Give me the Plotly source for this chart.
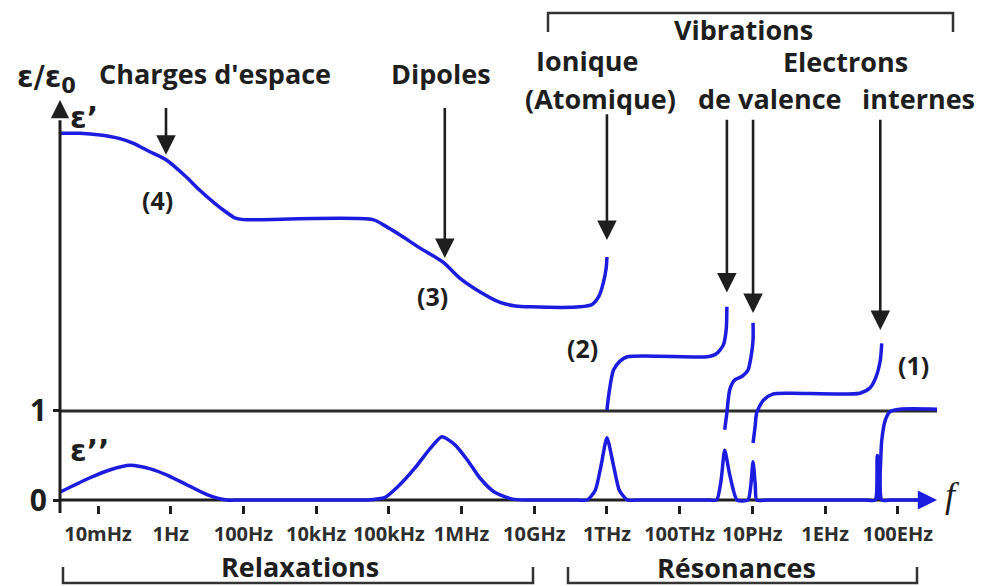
import plotly.graph_objects as go

# ---------------- data (x = tick index position along log-frequency axis) ----------------
tick_labels = ["10mHz", "1Hz", "100Hz", "10kHz", "100kHz", "1MHz",
               "10GHz", "1THz", "100THz", "10PHz", "1EHz", "100EHz"]
tick_pos = list(range(len(tick_labels)))

# epsilon' : relaxation part (space charges + dipoles) ending with ionic resonance
eps1_relax_x = [-0.52, -0.25, 0.03, 0.30, 0.48, 0.72, 0.94, 1.20, 1.40, 1.61, 1.77, 1.88, 2.00, 2.23,
                3.78, 3.95, 4.15, 4.43, 4.75, 4.98, 5.25, 5.53, 5.74, 5.94, 6.63, 6.80, 6.89, 6.95, 6.99, 7.00]
eps1_relax_y = [4.12, 4.12, 4.10, 4.06, 4.01, 3.91, 3.82, 3.64, 3.48, 3.33, 3.23, 3.17, 3.15, 3.15,
                3.15, 3.08, 2.98, 2.83, 2.67, 2.49, 2.34, 2.22, 2.18, 2.17, 2.17, 2.20, 2.29, 2.44, 2.61, 2.73]
# after ionic resonance, up to first valence resonance
eps1_ionic_x = [7.00, 7.03, 7.09, 7.18, 7.28, 8.38, 8.50, 8.60, 8.64, 8.65]
eps1_ionic_y = [1.01, 1.21, 1.46, 1.56, 1.61, 1.61, 1.64, 1.74, 1.91, 2.17]
# between the two valence resonances
eps1_val1_x = [8.62, 8.65, 8.69, 8.76, 8.86, 8.94, 8.98, 9.01, 9.01]
eps1_val1_y = [0.79, 0.98, 1.24, 1.35, 1.39, 1.46, 1.60, 1.80, 1.99]
# after valence resonance, up to core-electron resonance
eps1_val2_x = [9.01, 9.04, 9.06, 9.15, 9.28, 9.52, 10.48, 10.62, 10.70, 10.76, 10.78]
eps1_val2_y = [0.64, 0.84, 0.98, 1.12, 1.19, 1.20, 1.20, 1.26, 1.38, 1.57, 1.76]
# after core-electron resonance
eps1_core_x = [10.73, 10.76, 10.78, 10.83, 10.89, 11.03, 11.54]
eps1_core_y = [0.00, 0.34, 0.67, 0.90, 0.99, 1.02, 1.02]

# epsilon'' (losses)
eps2_x = [-0.52, -0.11, 0.17, 0.44, 0.72, 0.95, 1.20, 1.50, 1.77, 1.95, 3.55, 3.70, 3.95, 4.15, 4.36, 4.57,
          4.73, 4.91, 5.08, 5.25, 5.45, 5.70, 5.90, 6.10, 6.60, 6.73, 6.84, 6.92, 7.00, 7.09, 7.17, 7.28,
          7.40, 8.40, 8.51, 8.57, 8.62, 8.69, 8.79, 8.94, 8.98, 9.01, 9.04, 9.06, 9.20, 10.55, 10.69,
          10.72, 10.75, 10.78, 10.90, 11.35]
eps2_y = [0.09, 0.25, 0.34, 0.39, 0.35, 0.28, 0.18, 0.06, 0.00, 0.00, 0.00, 0.00, 0.03, 0.17, 0.36, 0.58,
          0.71, 0.62, 0.45, 0.25, 0.09, 0.01, 0.00, 0.00, 0.00, 0.00, 0.11, 0.39, 0.70, 0.39, 0.11, 0.00,
          0.00, 0.00, 0.00, 0.22, 0.56, 0.28, 0.00, 0.00, 0.17, 0.43, 0.17, 0.00, 0.00, 0.00, 0.00,
          0.50, 0.45, 0.00, 0.00, 0.00]

# labelled mechanisms: (x of arrow, arrow tail y, arrow tip y)
arrow_x = [0.935, 4.77, 7.00, 8.65, 9.01, 10.76]
arrow_tail_y = [4.42, 4.42, 4.35, 4.29, 4.29, 4.29]
arrow_tip_y = [3.88, 2.72, 2.92, 2.33, 2.10, 1.91]

# ---------------- layout geometry ----------------
W, H = 981, 586
L, R, T, B = 60, 937, 100, 505
XR = [-0.523, 11.54]
YR = [-0.0562, 4.494]
BLUE = "#1c1ce0"
INK = "#1e1e1e"
TXT = "Open Sans"


def px2paper(px, py):
    return (px - L) / (R - L), (B - py) / (B - T)


fig = go.Figure()

line_kw = dict(color=BLUE, width=3.5, shape="spline", smoothing=0.7)
for xs, ys in [(eps1_relax_x, eps1_relax_y), (eps1_ionic_x, eps1_ionic_y),
               (eps1_val1_x, eps1_val1_y), (eps1_val2_x, eps1_val2_y),
               (eps1_core_x, eps1_core_y)]:
    fig.add_trace(go.Scatter(x=xs, y=ys, mode="lines", line=line_kw,
                             hoverinfo="skip", showlegend=False))
fig.add_trace(go.Scatter(x=eps2_x, y=eps2_y, mode="lines",
                         line=dict(color=BLUE, width=3.5, shape="spline", smoothing=0.6),
                         hoverinfo="skip", showlegend=False))

shapes = []
# x axis (black part, covered in blue by eps'')
shapes.append(dict(type="line", xref="x", yref="y", x0=XR[0], x1=11.3, y0=0, y1=0,
                   line=dict(color=INK, width=3), layer="below"))
# line eps = 1
shapes.append(dict(type="line", xref="x", yref="y", x0=XR[0], x1=11.54, y0=1, y1=1,
                   line=dict(color="#2a2a2a", width=3), layer="below"))
# y axis
x0p, y0p = px2paper(60, 513)
shapes.append(dict(type="line", xref="paper", yref="paper", x0=0, x1=0, y0=y0p, y1=0.95,
                   line=dict(color=INK, width=3)))


def bracket(px0, px1, py_bar, py_end):
    a0, b0 = px2paper(px0, py_end)
    a1, b1 = px2paper(px1, py_bar)
    return dict(type="path", xref="paper", yref="paper",
                path=f"M{a0},{b0} L{a0},{b1} L{a1},{b1} L{a1},{b0}",
                line=dict(color="#333333", width=2.5))


shapes.append(bracket(548, 953, 13, 32))
shapes.append(bracket(63, 533, 583, 567))
shapes.append(bracket(568, 917, 583, 567))

ann = []


def text(s, px, py, size=27, family=TXT, weight="bold", color=INK):
    xp, yp = px2paper(px, py)
    ann.append(dict(text=s, x=xp, y=yp, xref="paper", yref="paper", showarrow=False,
                    xanchor="center", yanchor="middle",
                    font=dict(family=family, size=size, color=color, weight=weight)))


text("Charges d'espace", 215, 73)
text("Dipoles", 441, 73)
text("Vibrations", 743, 30)
text("Ionique", 587, 60)
text("(Atomique)", 600, 98)
text("Electrons", 845, 62)
text("de valence", 770, 98)
text("internes", 918, 98)
text("(4)", 157, 200, size=25)
text("(3)", 432, 296, size=25)
text("(2)", 582, 348, size=25)
text("(1)", 913, 365, size=25)
text("Relaxations", 300, 566)
text("Résonances", 736, 567)
text("ε’", 84, 117, size=30, family="DejaVu Sans")
text("ε’’", 90, 450, size=30, family="DejaVu Sans")
text("ε/ε<sub>0</sub>", 46, 78, size=30, family="DejaVu Sans")
text("<i>f</i>", 952, 495, size=36, family="Liberation Serif", weight="normal")

for xa, yt, yh in zip(arrow_x, arrow_tail_y, arrow_tip_y):
    ann.append(dict(text="", x=xa, y=yh, ax=xa, ay=yt, xref="x", yref="y", axref="x", ayref="y",
                    showarrow=True, arrowhead=2, arrowsize=1.5, arrowwidth=2.6,
                    arrowcolor=INK, standoff=0))
# axis arrowheads
ann.append(dict(text="", x=0, y=1, ax=0, ay=18, xref="paper", yref="paper", axref="pixel",
                ayref="pixel", showarrow=True, arrowhead=2, arrowsize=1.4, arrowwidth=2.6,
                arrowcolor=INK, standoff=0))
ann.append(dict(text="", x=11.54, y=0, ax=11.2, ay=0, xref="x", yref="y", axref="x",
                ayref="y", showarrow=True, arrowhead=2, arrowsize=1.2, arrowwidth=3.2,
                arrowcolor=BLUE, standoff=0))

fig.update_layout(
    width=W, height=H,
    margin=dict(l=L, r=W - R, t=T, b=H - B, pad=0, autoexpand=False),
    paper_bgcolor="white", plot_bgcolor="rgba(0,0,0,0)",
    shapes=shapes, annotations=ann, showlegend=False,
    xaxis=dict(range=XR, tickmode="array", tickvals=tick_pos, ticktext=tick_labels,
               showgrid=False, zeroline=False, showline=False, automargin=False,
               ticks="outside", ticklen=8, tickwidth=2.5, tickcolor=INK,
               ticklabelstandoff=3,
               tickfont=dict(family="Open Sans", size=20, color="#2e2e2e", weight="bold"),
               fixedrange=True),
    yaxis=dict(range=YR, tickmode="array", tickvals=[0, 1], ticktext=["0", "1"],
               showgrid=False, zeroline=False, showline=False, automargin=False,
               ticks="outside", ticklen=6, tickwidth=2.5, tickcolor=INK,
               tickfont=dict(family=TXT, size=30, color=INK, weight="bold"),
               fixedrange=True),
)

fig.write_html("out.html", config={"displayModeBar": False},
               post_script="document.body.style.margin='0px';document.body.style.overflow='hidden';")
